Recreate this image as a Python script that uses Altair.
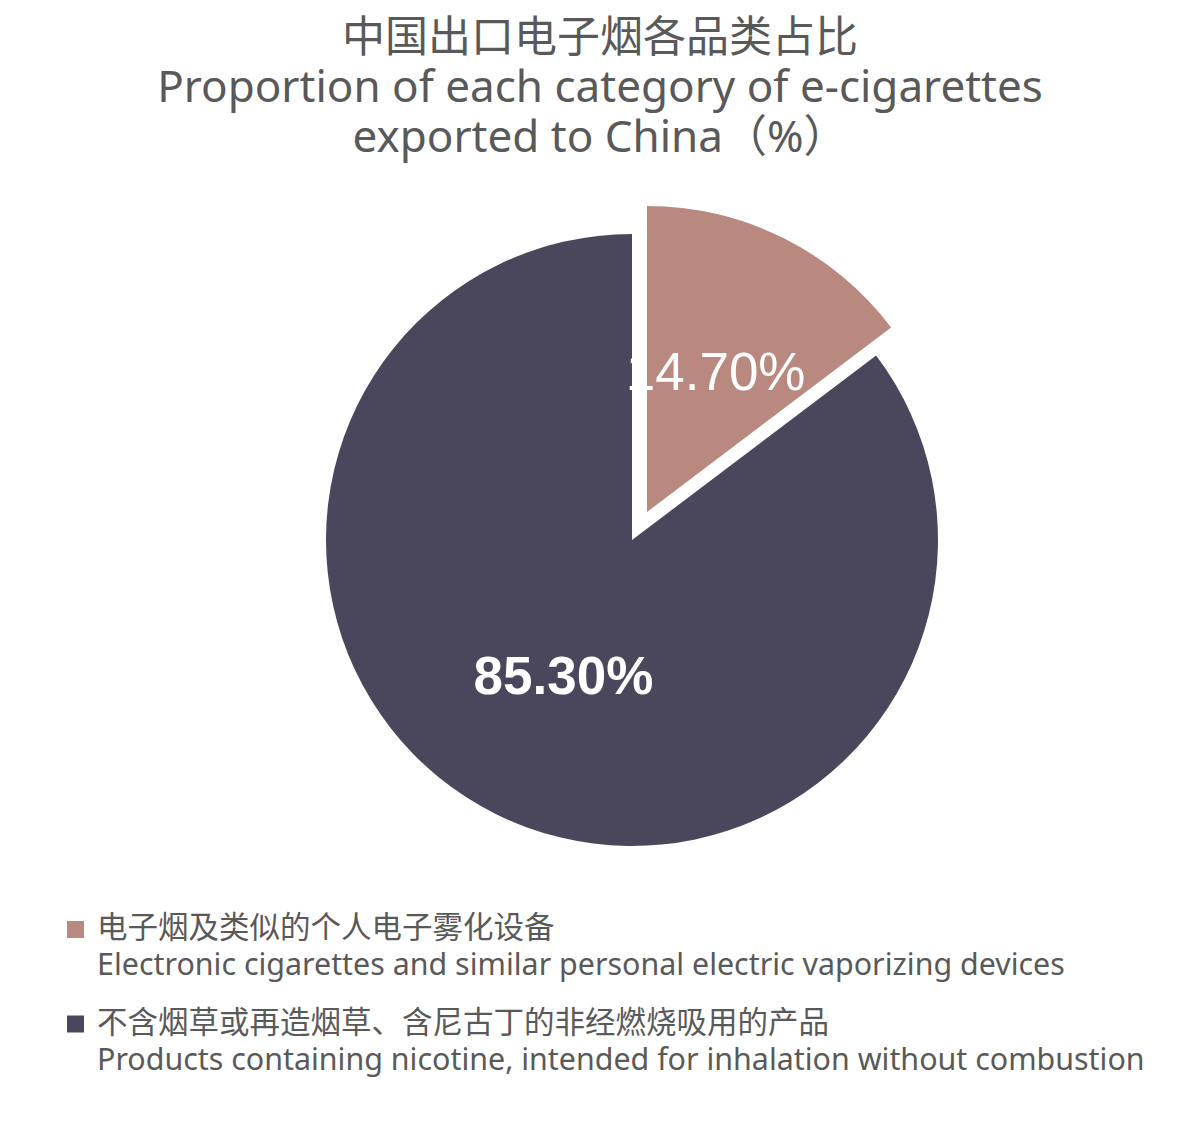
import math
import altair as alt
import pandas as pd

# ---- data ----
title_lines = ["中国出口电子烟各品类占比",
               "Proportion of each category of e-cigarettes",
               "exported to China（%）"]
categories_zh = ["电子烟及类似的个人电子雾化设备",
                 "不含烟草或再造烟草、含尼古丁的非经燃烧吸用的产品"]
categories_en = ["Electronic cigarettes and similar personal electric vaporizing devices",
                 "Products containing nicotine, intended for inhalation without combustion"]
shares = [14.70, 85.30]
colors = ["#B9897F", "#4A475C"]

df = pd.DataFrame({"zh": categories_zh, "en": categories_en,
                   "share": shares, "order": list(range(len(shares)))})
tdf = pd.DataFrame({"line": title_lines, "i": list(range(len(title_lines)))})

W, H = 1184, 1115
FONT_ZH = "Noto Sans CJK SC"
FONT_EN = "Noto Sans, Noto Sans CJK SC"
TXT = "#595959"

theta_scale = alt.Scale(domain=[0, 100], range=[0, 2 * math.pi])
color_enc = alt.Color("zh:N", scale=alt.Scale(domain=categories_zh, range=colors), legend=None)

base = (alt.Chart(df)
        .transform_window(end="sum(share)", sort=[alt.SortField("order")], frame=[None, 0])
        .transform_calculate(start="datum.end - datum.share",
                             mid="datum.end - datum.share / 2",
                             label="format(datum.share, '.2f') + '%'"))

# slice centres (chart coordinates)
centers = {0: (639, 504), 1: (624, 532)}
R = 306

layers = []
for i in [1, 0]:
    cx, cy = centers[i]
    b = base.transform_filter(f"datum.order == {i}")
    layers.append(
        b.mark_arc(radius=R, strokeWidth=0).encode(
            theta=alt.Theta("start:Q", scale=theta_scale, stack=None),
            theta2="end:Q",
            color=color_enc,
            x=alt.value(cx), y=alt.value(cy)))
for i in [1, 0]:
    cx, cy = centers[i]
    b = base.transform_filter(f"datum.order == {i}")
    layers.append(
        b.mark_text(radius=154, fontSize=53, font="Liberation Sans",
                    fontWeight="bold" if i == 1 else "normal",
                    color="white", align="center", baseline="middle").encode(
            theta=alt.Theta("mid:Q", scale=theta_scale, stack=None),
            text="label:N",
            x=alt.value(cx), y=alt.value(cy)))

# title
title_y = [44, 94, 144]
title_size = [43, 44, 44]
title_font = [FONT_ZH, FONT_EN, FONT_EN]
for i in range(3):
    layers.append(
        alt.Chart(tdf).transform_filter(f"datum.i == {i}")
        .mark_text(font=title_font[i], fontSize=title_size[i], color=TXT, align="center",
                   baseline="alphabetic")
        .encode(text="line:N", x=alt.value(592), y=alt.value(title_y[i])))

# legend
sq_y = [921.5, 1016]
zh_y = [921, 1016]
en_y = [967, 1062]
for i in range(2):
    b = alt.Chart(df).transform_filter(f"datum.order == {i}")
    layers.append(b.mark_square(size=289, opacity=1, filled=True).encode(
        color=color_enc, x=alt.value(67.5), y=alt.value(sq_y[i])))
    layers.append(b.mark_text(font=FONT_ZH, fontSize=30.5, color=TXT, align="left",
                              baseline="middle").encode(
        text="zh:N", x=alt.value(89), y=alt.value(zh_y[i])))
    layers.append(b.mark_text(font=FONT_EN, fontSize=30.4, color=TXT, align="left",
                              baseline="alphabetic").encode(
        text="en:N", x=alt.value(89), y=alt.value(en_y[i])))

chart = (alt.layer(*layers)
         .properties(width=W, height=H, padding=0, background="white",
                     autosize=alt.AutoSizeParams(type="none"))
         .configure_view(strokeWidth=0))

chart.save("out.html", embed_options={"renderer": "svg", "actions": False})
